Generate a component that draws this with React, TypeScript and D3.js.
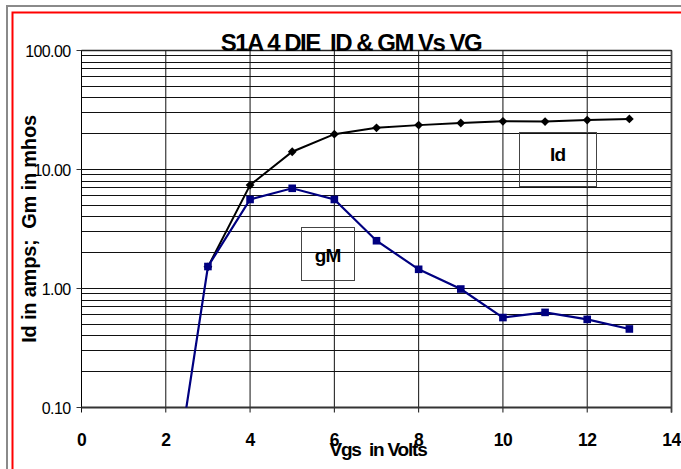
import React, { useEffect, useRef } from 'react';
import * as d3 from 'd3';

// Vgs sweep (volts)
const idVgs = [3, 4, 5, 6, 7, 8, 9, 10, 11, 12, 13];
const idAmps = [1.52, 7.4, 14.1, 19.8, 22.4, 23.6, 24.6, 25.4, 25.3, 26.0, 26.6];

const gmVgs = [2, 3, 4, 5, 6, 7, 8, 9, 10, 11, 12, 13];
const gmMhos = [0.0074, 1.53, 5.6, 6.95, 5.6, 2.52, 1.45, 0.99, 0.57, 0.63, 0.55, 0.457];

const xTicks = [0, 2, 4, 6, 8, 10, 12, 14];
const yTicks = [0.1, 1, 10, 100];

const FONT = '"Liberation Sans", Arial, sans-serif';

const App = () => {
  const ref = useRef<SVGSVGElement>(null);

  useEffect(() => {
    const svg = d3.select(ref.current);
    svg.selectAll('*').remove();

    const width = 681;
    const height = 469;
    const plot = { left: 81.5, right: 671.5, top: 50.5, bottom: 407.5 };

    const x = d3.scaleLinear().domain([0, 14]).range([plot.left, plot.right]);
    const y = d3.scaleLog().domain([0.1, 100]).range([plot.bottom, plot.top]);

    svg.append('rect').attr('width', width).attr('height', height).attr('fill', '#fff');

    // outer frames (run off the right and bottom of the picture)
    svg.append('rect')
      .attr('x', 7).attr('y', 6).attr('width', 700).attr('height', 500)
      .attr('fill', 'none').attr('stroke', '#8a8a8a').attr('stroke-width', 2);
    svg.append('rect')
      .attr('x', 12.5).attr('y', 12.5).attr('width', 700).attr('height', 500)
      .attr('fill', 'none').attr('stroke', '#ff0000').attr('stroke-width', 2);

    svg.append('defs').append('clipPath').attr('id', 'plot-clip')
      .append('rect')
      .attr('x', plot.left).attr('y', plot.top)
      .attr('width', plot.right - plot.left).attr('height', plot.bottom - plot.top);

    // horizontal grid: every 1..9 per decade
    const minor: number[] = [];
    [0.1, 1, 10].forEach(d => {
      for (let k = 1; k <= 9; k++) minor.push(d * k);
    });
    minor.push(100);
    svg.append('g').selectAll('line')
      .data(minor)
      .enter().append('line')
      .attr('x1', plot.left).attr('x2', plot.right)
      .attr('y1', d => Math.round(y(d) - 0.5) + 0.5)
      .attr('y2', d => Math.round(y(d) - 0.5) + 0.5)
      .attr('stroke', '#111').attr('stroke-width', 1);

    // vertical grid
    svg.append('g').selectAll('line')
      .data(xTicks)
      .enter().append('line')
      .attr('x1', d => x(d)).attr('x2', d => x(d))
      .attr('y1', plot.top).attr('y2', plot.bottom + 5)
      .attr('stroke', '#111').attr('stroke-width', 1);

    // plot frame
    svg.append('rect')
      .attr('x', plot.left).attr('y', plot.top)
      .attr('width', plot.right - plot.left).attr('height', plot.bottom - plot.top)
      .attr('fill', 'none').attr('stroke', '#000').attr('stroke-width', 1);
    svg.append('line')
      .attr('x1', plot.left).attr('x2', plot.right)
      .attr('y1', plot.bottom).attr('y2', plot.bottom)
      .attr('stroke', '#333').attr('stroke-width', 2);
    svg.append('line')
      .attr('x1', plot.left).attr('x2', plot.right)
      .attr('y1', plot.top).attr('y2', plot.top)
      .attr('stroke', '#222').attr('stroke-width', 1.5);
    svg.append('line')
      .attr('x1', plot.right).attr('x2', plot.right)
      .attr('y1', plot.top).attr('y2', plot.bottom + 5)
      .attr('stroke', '#444').attr('stroke-width', 1.8);

    // y ticks + labels
    const yAxis = svg.append('g');
    yAxis.selectAll('line')
      .data(yTicks)
      .enter().append('line')
      .attr('x1', plot.left - 5).attr('x2', plot.left)
      .attr('y1', d => y(d)).attr('y2', d => y(d))
      .attr('stroke', '#333').attr('stroke-width', 1);
    yAxis.selectAll('text')
      .data(yTicks)
      .enter().append('text')
      .attr('x', plot.left - 11)
      .attr('y', d => y(d) + 6)
      .attr('text-anchor', 'end')
      .attr('font-family', FONT)
      .attr('font-size', 16)
      .attr('letter-spacing', -0.6)
      .attr('fill', '#000')
      .text(d => d3.format('.2f')(d));

    // x labels
    svg.append('g').selectAll('text')
      .data(xTicks)
      .enter().append('text')
      .attr('x', d => x(d))
      .attr('y', 446)
      .attr('text-anchor', 'middle')
      .attr('font-family', FONT)
      .attr('font-size', 17.5)
      .attr('font-weight', 'bold')
      .attr('letter-spacing', -0.6)
      .attr('fill', '#000')
      .text(d => d);

    // series
    const lines = svg.append('g').attr('clip-path', 'url(#plot-clip)');
    const line = d3.line<[number, number]>()
      .x(d => x(d[0]))
      .y(d => y(d[1]));

    const idData: [number, number][] = idVgs.map((v, i) => [v, idAmps[i]]);
    const gmData: [number, number][] = gmVgs.map((v, i) => [v, gmMhos[i]]);

    lines.append('path')
      .datum(idData)
      .attr('d', line)
      .attr('fill', 'none').attr('stroke', '#000').attr('stroke-width', 2);
    lines.selectAll('.diamond')
      .data(idData)
      .enter().append('path')
      .attr('class', 'diamond')
      .attr('d', d => {
        const cx = x(d[0]);
        const cy = y(d[1]);
        const r = 4.4;
        return `M${cx},${cy - r}L${cx + r},${cy}L${cx},${cy + r}L${cx - r},${cy}Z`;
      })
      .attr('fill', '#000');

    lines.append('path')
      .datum(gmData)
      .attr('d', line)
      .attr('fill', 'none').attr('stroke', '#000080').attr('stroke-width', 2.2);
    lines.selectAll('.square')
      .data(gmData)
      .enter().append('rect')
      .attr('class', 'square')
      .attr('x', d => x(d[0]) - 3.8)
      .attr('y', d => y(d[1]) - 3.8)
      .attr('width', 7.6).attr('height', 7.6)
      .attr('fill', '#000080');

    // series label boxes
    const labels = [
      { text: 'gM', vgs: 5.84, val: 1.97, w: 53, h: 53, dy: 9 },
      { text: 'Id', vgs: 11.3, val: 12.2, w: 77, h: 54, dy: 2 },
    ];
    labels.forEach(l => {
      const cx = x(l.vgs);
      const cy = y(l.val);
      svg.append('rect')
        .attr('x', Math.round(cx - l.w / 2) + 0.5).attr('y', Math.round(cy - l.h / 2) + 0.5)
        .attr('width', l.w).attr('height', l.h)
        .attr('fill', 'none').attr('stroke', '#444').attr('stroke-width', 1);
      svg.append('text')
        .attr('x', cx).attr('y', cy + l.dy)
        .attr('text-anchor', 'middle')
        .attr('font-family', FONT)
        .attr('font-size', 19)
        .attr('font-weight', 'bold')
        .attr('letter-spacing', -0.8)
        .attr('fill', '#000')
        .text(l.text);
    });

    // titles
    svg.append('text')
      .attr('x', 351).attr('y', 51)
      .attr('text-anchor', 'middle')
      .attr('font-family', FONT)
      .attr('font-size', 24)
      .attr('font-weight', 'bold')
      .attr('letter-spacing', -1.5)
      .attr('fill', '#000')
      .attr('xml:space', 'preserve')
      .text('S1A 4 DIE  ID & GM Vs VG');

    svg.append('text')
      .attr('x', 378).attr('y', 456)
      .attr('text-anchor', 'middle')
      .attr('font-family', FONT)
      .attr('font-size', 19)
      .attr('font-weight', 'bold')
      .attr('letter-spacing', -1.2)
      .attr('fill', '#000')
      .attr('xml:space', 'preserve')
      .text('Vgs  in Volts');

    svg.append('text')
      .attr('transform', `translate(36,229) rotate(-90)`)
      .attr('text-anchor', 'middle')
      .attr('font-family', FONT)
      .attr('font-size', 20)
      .attr('font-weight', 'bold')
      .attr('letter-spacing', -0.2)
      .attr('fill', '#000')
      .attr('xml:space', 'preserve')
      .text('Id in amps;  Gm in mhos');
  }, []);

  return (
    <svg
      ref={ref}
      width="681"
      height="469"
      style={{ position: 'absolute', left: 0, top: 0 }}
    ></svg>
  );
};

export default App;
